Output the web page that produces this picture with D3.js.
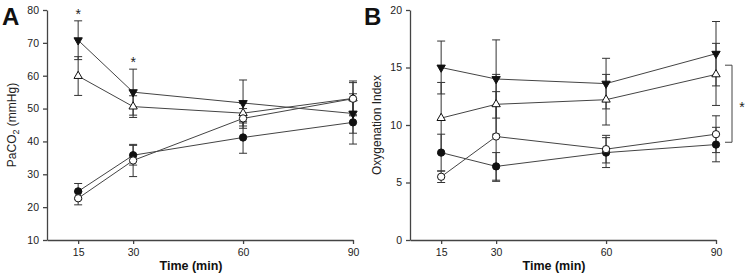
<!DOCTYPE html>
<html>
<head>
<meta charset="utf-8">
<script src="https://cdn.jsdelivr.net/npm/d3@7"></script>
<style>
  body { margin: 0; background: #fff; }
  svg { font-family: "Liberation Sans", Arial, sans-serif; }
  .axis path, .axis line { stroke: #444; stroke-width: 1.3px; }
  .axis text { font-size: 10.5px; fill: #222; }
</style>
</head>
<body>
<div id="chart"></div>
<script>
// time points (min)
const times = [15, 30, 60, 90];
const xTicks = [15, 30, 60, 90];

// Panel A: PaCO2 (mmHg), mean and SD
const paco2FilledTri = [70.8, 55.0, 51.7, 48.5];
const paco2FilledTriSd = [5.9, 7.0, 7.0, 6.0];
const paco2OpenTri = [59.9, 50.6, 48.6, 53.1];
const paco2OpenTriSd = [5.9, 3.3, 3.0, 5.3];
const paco2FilledCirc = [24.8, 35.8, 41.2, 45.8];
const paco2FilledCircSd = [2.4, 3.0, 4.8, 6.6];
const paco2OpenCirc = [22.7, 34.2, 47.0, 53.0];
const paco2OpenCircSd = [2.0, 4.9, 3.0, 4.9];
const paco2Ticks = [10, 20, 30, 40, 50, 60, 70, 80];
// asterisks above the error bars (time, value of bar top)
const paco2Stars = [[15, 76.7], [30, 62.0]];

// Panel B: Oxygenation Index, mean and SD
const oxyFilledTri = [15.0, 14.0, 13.6, 16.2];
const oxyFilledTriSd = [2.3, 3.4, 2.2, 2.8];
const oxyOpenTri = [10.6, 11.8, 12.2, 14.4];
const oxyOpenTriSd = [3.1, 2.6, 2.2, 2.7];
const oxyFilledCirc = [7.6, 6.4, 7.6, 8.3];
const oxyFilledCircSd = [1.6, 1.2, 1.3, 1.5];
const oxyOpenCirc = [5.5, 9.0, 7.9, 9.2];
const oxyOpenCircSd = [0.5, 3.9, 1.2, 1.6];
const oxyTicks = [0, 5, 10, 15, 20];
// bracket between groups at 90 min (from, to)
const oxyBracket = [15.2, 8.5];

const W = 749, H = 276;
const svg = d3.select("#chart").append("svg")
    .attr("width", W)
    .attr("height", H);

function makeSeries(m, sd, shape, fill) {
    return times.map((t, i) => ({ t: t, v: m[i], sd: sd[i], shape: shape, fill: fill }));
}

function drawPanel(opts) {
    let g = svg.append("g");

    let x = d3.scaleLinear().domain([6.5, 90]).range([opts.left, opts.left + 306]);
    let y = d3.scaleLinear().domain(opts.yDomain).range([240, 10]);

    // axes
    g.append("g")
        .attr("class", "axis")
        .attr("transform", "translate(0,240)")
        .call(d3.axisBottom(x).tickValues(xTicks).tickSize(4).tickSizeOuter(0).tickPadding(5));
    g.append("g")
        .attr("class", "axis")
        .attr("transform", "translate(" + opts.left + ",0)")
        .call(d3.axisLeft(y).tickValues(opts.yTicks).tickSize(4).tickSizeOuter(0).tickPadding(4));

    let line = d3.line().x(d => x(d.t)).y(d => y(d.v));

    // connecting lines
    opts.series.forEach(s => {
        g.append("path")
            .datum(s)
            .attr("d", line)
            .attr("fill", "none")
            .attr("stroke", "#444")
            .attr("stroke-width", 1);
    });

    // error bars
    opts.series.forEach(s => {
        let eb = g.append("g").selectAll("g").data(s).enter().append("g");
        eb.append("line")
            .attr("x1", d => x(d.t)).attr("x2", d => x(d.t))
            .attr("y1", d => y(d.v - d.sd)).attr("y2", d => y(d.v + d.sd))
            .attr("stroke", "#333");
        eb.append("line")
            .attr("x1", d => x(d.t) - 4).attr("x2", d => x(d.t) + 4)
            .attr("y1", d => y(d.v + d.sd)).attr("y2", d => y(d.v + d.sd))
            .attr("stroke", "#333");
        eb.append("line")
            .attr("x1", d => x(d.t) - 4).attr("x2", d => x(d.t) + 4)
            .attr("y1", d => y(d.v - d.sd)).attr("y2", d => y(d.v - d.sd))
            .attr("stroke", "#333");
    });

    // markers
    opts.series.forEach(s => {
        g.append("g").selectAll("path").data(s).enter().append("path")
            .attr("d", d => d3.symbol()
                .type(d.shape === "circle" ? d3.symbolCircle : d3.symbolTriangle)
                .size(d.shape === "circle" ? 42 : 30)())
            .attr("transform", d => "translate(" + x(d.t) + "," + y(d.v) + ")" +
                (d.shape === "down" ? " rotate(180)" : ""))
            .attr("fill", d => d.fill ? "#111" : "#fff")
            .attr("stroke", "#111")
            .attr("stroke-width", 1);
    });

    // x label
    g.append("text")
        .attr("x", opts.left + 144)
        .attr("y", 270)
        .attr("text-anchor", "middle")
        .style("font-size", "12.5px")
        .style("font-weight", "bold")
        .style("fill", "#111")
        .text("Time (min)");

    // panel letter
    g.append("text")
        .attr("x", opts.letterX)
        .attr("y", 25)
        .style("font-size", "24px")
        .style("font-weight", "bold")
        .style("fill", "#111")
        .text(opts.letter);

    return { g: g, x: x, y: y };
}

let panelA = drawPanel({
    left: 47,
    yDomain: [10, 80],
    yTicks: paco2Ticks,
    letter: "A",
    letterX: 2,
    series: [
        makeSeries(paco2FilledTri, paco2FilledTriSd, "down", true),
        makeSeries(paco2OpenTri, paco2OpenTriSd, "up", false),
        makeSeries(paco2FilledCirc, paco2FilledCircSd, "circle", true),
        makeSeries(paco2OpenCirc, paco2OpenCircSd, "circle", false)
    ]
});

// y label A with subscript
let labA = panelA.g.append("text")
    .attr("transform", "translate(16,125) rotate(-90)")
    .attr("text-anchor", "middle")
    .style("font-size", "12px")
    .style("fill", "#222");
labA.append("tspan").text("PaCO");
labA.append("tspan").attr("dy", 3).style("font-size", "9px").text("2");
labA.append("tspan").attr("dy", -3).text(" (mmHg)");

panelA.g.selectAll(".star").data(paco2Stars).enter().append("text")
    .attr("x", d => panelA.x(d[0]))
    .attr("y", d => panelA.y(d[1]) - 2)
    .attr("text-anchor", "middle")
    .style("font-size", "14px")
    .style("fill", "#222")
    .text("*");

let panelB = drawPanel({
    left: 410,
    yDomain: [0, 20],
    yTicks: oxyTicks,
    letter: "B",
    letterX: 364,
    series: [
        makeSeries(oxyFilledTri, oxyFilledTriSd, "down", true),
        makeSeries(oxyOpenTri, oxyOpenTriSd, "up", false),
        makeSeries(oxyFilledCirc, oxyFilledCircSd, "circle", true),
        makeSeries(oxyOpenCirc, oxyOpenCircSd, "circle", false)
    ]
});

panelB.g.append("text")
    .attr("transform", "translate(381,125) rotate(-90)")
    .attr("text-anchor", "middle")
    .style("font-size", "12px")
    .style("fill", "#222")
    .text("Oxygenation Index");

// bracket with asterisk
let bx = panelB.x(90) + 16;
let by0 = panelB.y(oxyBracket[0]), by1 = panelB.y(oxyBracket[1]);
panelB.g.append("path")
    .attr("d", "M" + (bx - 7) + "," + by0 + "H" + bx + "V" + by1 + "H" + (bx - 7))
    .attr("fill", "none")
    .attr("stroke", "#444");
panelB.g.append("text")
    .attr("x", bx + 10)
    .attr("y", (by0 + by1) / 2 + 8)
    .attr("text-anchor", "middle")
    .style("font-size", "14px")
    .style("fill", "#222")
    .text("*");
</script>
</body>
</html>
